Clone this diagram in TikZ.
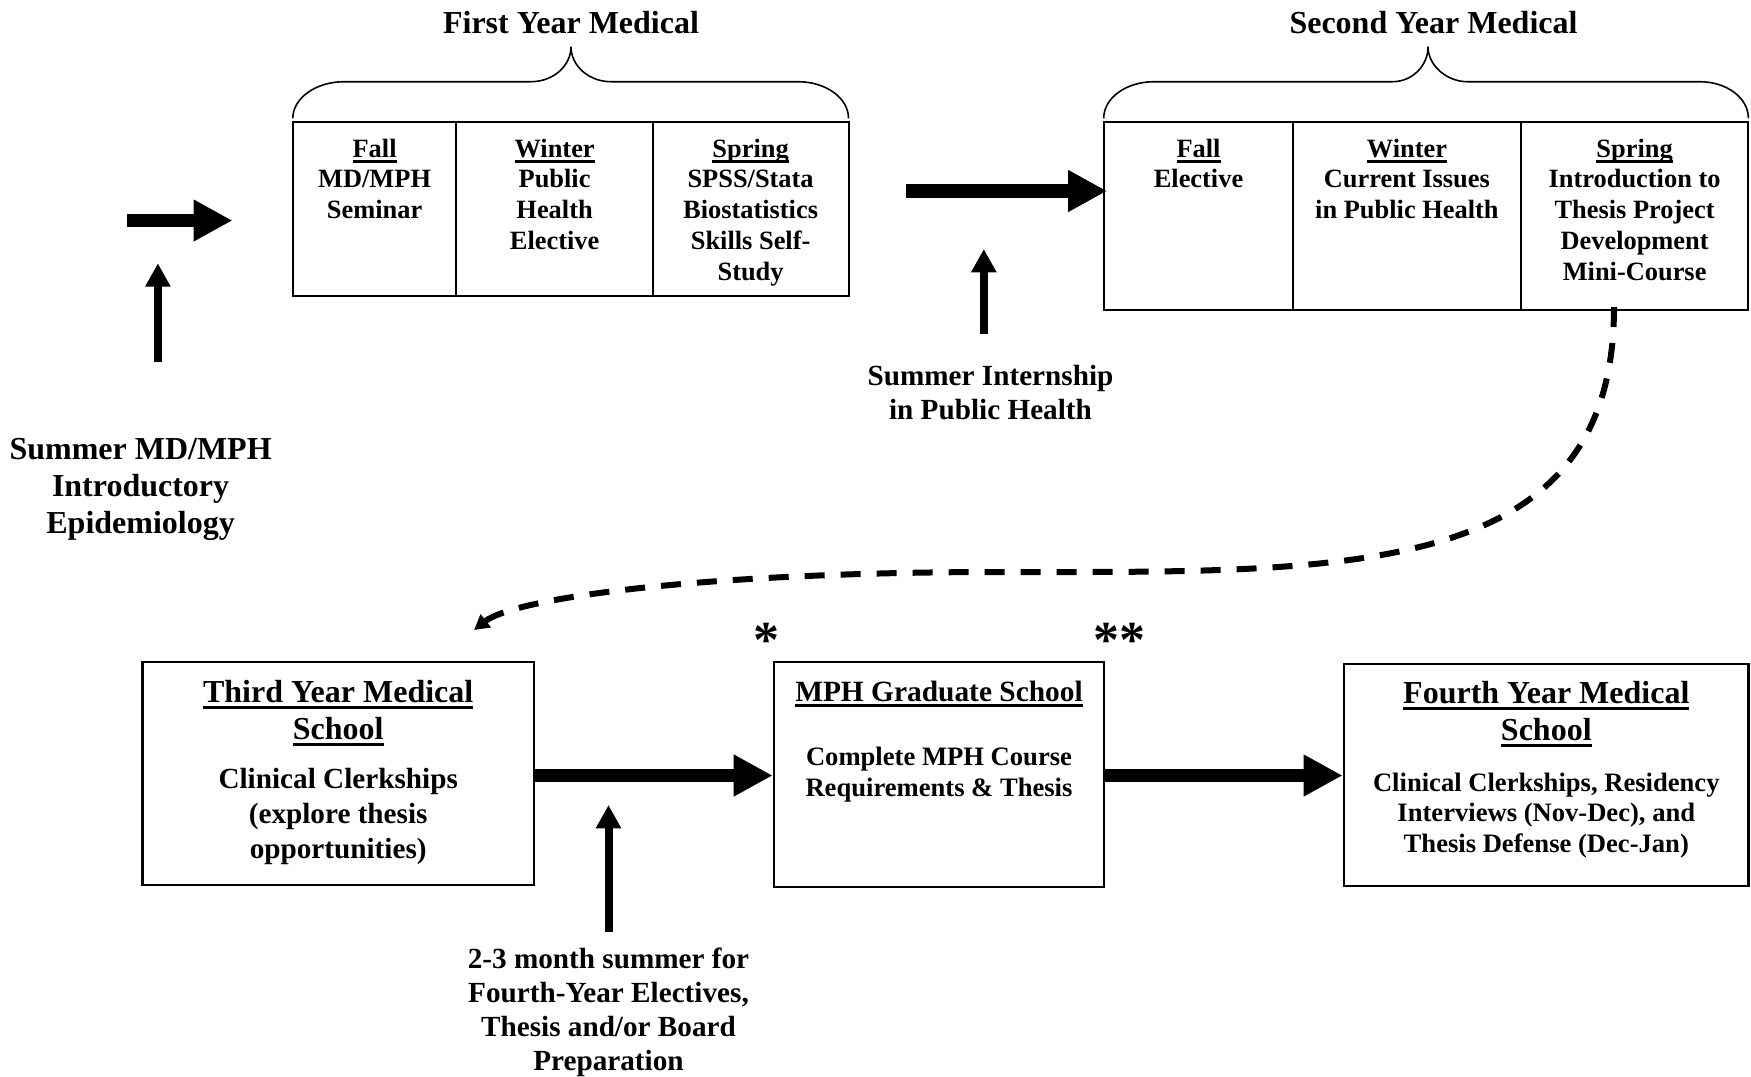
\documentclass[tikz,border=0pt]{standalone}
\usepackage{fontspec}
\setmainfont{Liberation Serif}
\usetikzlibrary{arrows.meta}
\newcommand{\myul}[1]{\setbox0\hbox{#1}\rlap{\rule[-0.2em]{\wd0}{0.085em}}\box0}
\newcommand{\fnTab}{\bfseries\fontsize{13.2}{15.35}\selectfont}
\newcommand{\fnTitle}{\bfseries\fontsize{16}{18.4}\selectfont}
\newcommand{\fnLab}{\bfseries\fontsize{14.6}{16.9}\selectfont}
\newcommand{\fnBodyA}{\bfseries\fontsize{14.6}{17.3}\selectfont}
\newcommand{\fnBodyB}{\bfseries\fontsize{13.3}{15.1}\selectfont}
\newcommand{\fnHead}{\bfseries\fontsize{14.7}{17}\selectfont}
\newcommand{\fnStar}{\bfseries\fontsize{26}{30}\selectfont}
\begin{document}
\begin{tikzpicture}[x=0.5pt,y=-0.5pt,
  txt/.style={inner sep=0pt, align=center, anchor=north},
  cellbox/.style={draw, line width=1pt, inner sep=0pt},
  bigbox/.style={draw, line width=1.1pt, inner sep=0pt},
  bigarrow/.style={line width=6.6pt, -{Triangle[length=19.5pt,width=19.6pt]}},
  uparrow/.style={line width=4pt, -{Triangle[length=11.7pt,width=12pt]}},
  dasharrow/.style={line width=3pt, dash pattern=on 10pt off 8pt, -{Triangle[length=7.5pt,width=8pt]}},
  bracestyle/.style={line width=0.8pt}]
\fill[white] (0,0) rectangle (1751,1074);

% first year table
\node[cellbox, minimum width=81.8pt, minimum height=87.15pt] (c1a) at (374.6,208.85) {};
\node[cellbox, minimum width=98.15pt, minimum height=87.15pt] (c1b) at (554.55,208.85) {};
\node[cellbox, minimum width=97.9pt, minimum height=87.15pt] (c1c) at (750.6,208.85) {};
\node[txt, font=\fnTab] (t1a) at (374.6,138.5) {\myul{Fall}\\MD/MPH\\Seminar};
\node[txt, font=\fnTab] (t1b) at (554.6,138.5) {\myul{Winter}\\Public\\Health\\Elective};
\node[txt, font=\fnTab] (t1c) at (750.6,138.5) {\myul{Spring}\\SPSS/Stata\\Biostatistics\\Skills Self-\\Study};

% second year table
\node[cellbox, minimum width=94.75pt, minimum height=94.15pt] (c2a) at (1198.45,215.85) {};
\node[cellbox, minimum width=113.65pt, minimum height=94.15pt] (c2b) at (1406.85,215.85) {};
\node[cellbox, minimum width=113.95pt, minimum height=94.15pt] (c2c) at (1634.45,215.85) {};
\node[txt, font=\fnTab] (t2a) at (1198.5,138.5) {\myul{Fall}\\Elective};
\node[txt, font=\fnTab] (t2b) at (1406.9,138.5) {\myul{Winter}\\Current Issues\\in Public Health};
\node[txt, font=\fnTab] (t2c) at (1634.6,138.5) {\myul{Spring}\\Introduction to\\Thesis Project\\Development\\Mini-Course};

% titles and braces
\node[txt, font=\fnTitle] (y1) at (571,11) {First Year Medical};
\node[txt, font=\fnTitle] (y2) at (1433.5,11) {Second Year Medical};
\draw[bracestyle] (292.8,118.3) .. controls (292.8,98.1) and (316,81.7) .. (344,81.7) -- (531,81.7)
  .. controls (553,81.7) and (571,66) .. (571,46.7) .. controls (571,66) and (589,81.7) .. (611,81.7)
  -- (798,81.7) .. controls (826,81.7) and (848.5,98.1) .. (848.5,118.3);
\draw[bracestyle] (1103.7,118.3) .. controls (1103.7,98.1) and (1126,81.7) .. (1154,81.7) -- (1392.5,81.7)
  .. controls (1412,81.7) and (1428,66) .. (1428,46.7) .. controls (1428,66) and (1447.5,81.7) .. (1467,81.7)
  -- (1699.6,81.7) .. controls (1727,81.7) and (1748.4,98.1) .. (1748.4,118.3);

% summer labels
\node[txt, font=\fnTitle] (sum1) at (140.6,437.8) {Summer MD/MPH\\Introductory\\Epidemiology};
\node[txt, font=\fnLab] (sum2) at (990.5,365.1) {Summer Internship\\in Public Health};
\node[txt, font=\fnLab] (sum3) at (608.5,947.8) {2-3 month summer for\\Fourth-Year Electives,\\Thesis and/or Board\\Preparation};

% top arrows
\coordinate (a1s) at (127.4,220.5);
\coordinate (a1e) at (232.5,220.5);
\draw[bigarrow] (a1s) -- (a1e);
\coordinate (u1s) at (157.9,362);
\coordinate (u1e) at (157.9,263.3);
\draw[uparrow] (u1s) -- (u1e);
\coordinate (a2s) at (905.7,191);
\draw[bigarrow] (a2s) -- ([xshift=2.2pt]a2s -| c2a.west);
\coordinate (u2s) at (983.8,333.5);
\coordinate (u2e) at (983.8,249);
\draw[uparrow] (u2s) -- (u2e);

% bottom boxes
\node[bigbox, minimum width=195.75pt, minimum height=111.5pt] (third) at (338.15,773.8) {};
\node[bigbox, minimum width=165.25pt, minimum height=112.5pt] (mph) at (939.05,774.8) {};
\node[bigbox, minimum width=202.35pt, minimum height=111.25pt] (fourth) at (1546.05,775.05) {};
\node[txt, font=\fnTitle] (thirdt) at (338.2,680) {\myul{Third Year Medical}\\\myul{School}};
\node[txt, font=\fnBodyA] (thirdb) at (338.2,768.2) {Clinical Clerkships\\(explore thesis\\opportunities)};
\node[txt, font=\fnHead] (mpht) at (939,680.2) {\myul{MPH Graduate School}};
\node[txt, font=\fnBodyB] (mphb) at (939,747) {Complete MPH Course\\Requirements \& Thesis};
\node[txt, font=\fnTitle] (fourtht) at (1546.3,681.2) {\myul{Fourth Year Medical}\\\myul{School}};
\node[txt, font=\fnBodyB] (fourthb) at (1546.3,772.8) {Clinical Clerkships, Residency\\Interviews (Nov-Dec), and\\Thesis Defense (Dec-Jan)};
\node[txt, font=\fnStar] (star1) at (766.4,623) {*};
\node[txt, font=\fnStar] (star2) at (1119.5,623) {**};

% bottom arrows
\coordinate (yb) at (0,775.5);
\draw[bigarrow] (third.east |- yb) -- (mph.west |- yb);
\draw[bigarrow] (mph.east |- yb) -- (fourth.west |- yb);
\coordinate (u3s) at (608.5,931.7);
\coordinate (u3e) at (608.5,805);
\draw[uparrow] (u3s) -- (u3e);

% dashed connector
\coordinate (dstart) at (1614,307);
\coordinate (dend) at (474,630);
\draw[dasharrow] (dstart) .. controls (1614,580) and (1350,572) .. (1000,572)
  .. controls (700,572) and (515,598) .. (dend);
\end{tikzpicture}
\end{document}
